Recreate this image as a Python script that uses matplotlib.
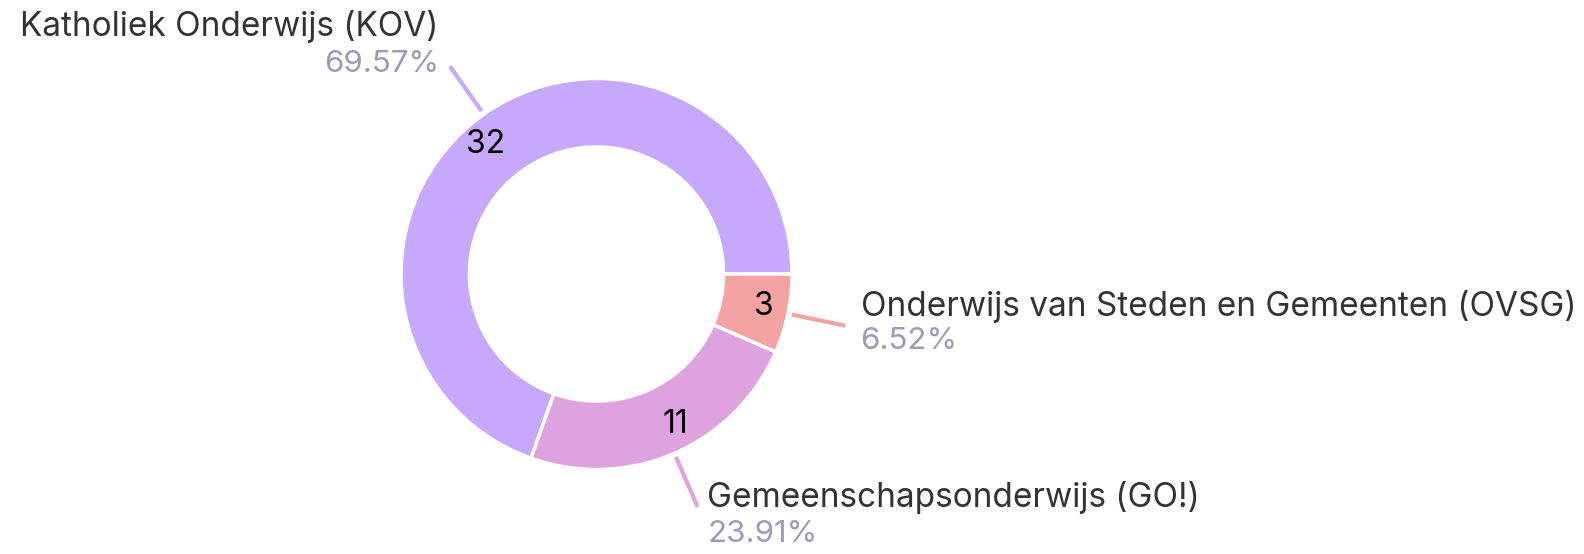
import numpy as np
import matplotlib.pyplot as plt

# -----------------------------------------------------
# DATA
# -----------------------------------------------------
labels = ["Katholiek Onderwijs (KOV)", "Gemeenschapsonderwijs (GO!)",
          "Onderwijs van Steden en Gemeenten (OVSG)"]
counts = [32, 11, 3]
percents = ["69.57%", "23.91%", "6.52%"]
colors = ["#c6a9fc", "#dfa2e1", "#f4a3a2"]

# -----------------------------------------------------
# LAYOUT
# -----------------------------------------------------
W, H, DPI = 1584, 554, 100
R_PX = 195.5                  # outer radius in pixels
CX, CY = 596.5, 274           # donut centre (pixels from top-left)

plt.rcParams["font.family"] = ["Inter", "DejaVu Sans"]

fig = plt.figure(figsize=(W / DPI, H / DPI), dpi=DPI)
ax = fig.add_axes([0, 0, 1, 1])

wedges, _ = ax.pie(counts, colors=colors, startangle=0, counterclock=True,
                   radius=1, wedgeprops=dict(width=0.35, edgecolor="white",
                                             linewidth=2.5))

ax.set_xlim(-CX / R_PX, (W - CX) / R_PX)
ax.set_ylim(-(H - CY) / R_PX, CY / R_PX)
ax.set_aspect("equal")
ax.axis("off")

# per wedge: name offset, percent offset (points from leader end), align,
# small angular nudge (deg) for the count label
layout = [((-8, 21.6), (-8, -4), "right", 5.4),
          ((7, 0), (7, -25), "left", 4.1),
          ((11, 6.8), (11, -16.6), "left", 0.6)]

for w, n, pct, col, (o_name, o_pct, ha, nudge) in zip(wedges, counts, percents,
                                                       colors, layout):
    mid_deg = (w.theta1 + w.theta2) / 2
    mid = np.deg2rad(mid_deg)
    c, s = np.cos(mid), np.sin(mid)
    # count inside the ring
    a = np.deg2rad(mid_deg + nudge)
    ax.text(0.87 * np.cos(a), 0.87 * np.sin(a), str(n), ha="center",
            va="center", fontsize=23, color="black")
    # leader line
    ax.plot([1.02 * c, 1.30 * c], [1.02 * s, 1.30 * s], color=col,
            lw=3, solid_capstyle="butt")
    end = (1.30 * c, 1.30 * s)
    lbl = labels[counts.index(n)]
    ax.annotate(lbl, end, xytext=o_name, textcoords="offset points",
                ha=ha, va="baseline", fontsize=24, color="#333333")
    ax.annotate(pct, end, xytext=o_pct, textcoords="offset points",
                ha=ha, va="baseline", fontsize=22.5, color="#9b9bb9")

plt.savefig("out.png", dpi=DPI)
